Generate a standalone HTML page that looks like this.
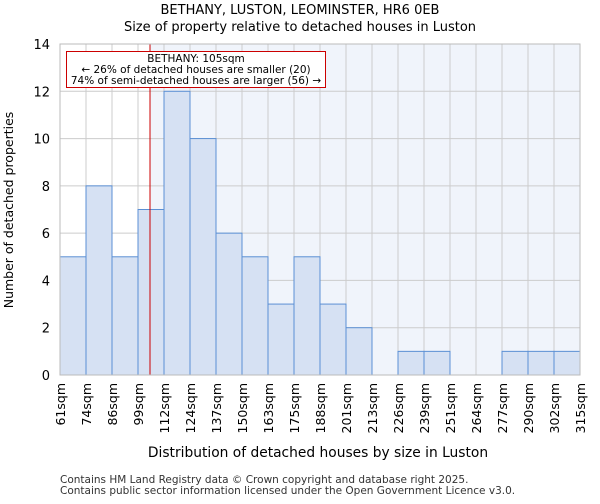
<!DOCTYPE html>
<html><head><meta charset="utf-8"><style>
body{margin:0;background:#fff;font-family:"DejaVu Sans","Liberation Sans",sans-serif}
</style></head><body>
<svg id="c" width="600" height="500" xmlns="http://www.w3.org/2000/svg" font-family="DejaVu Sans, Liberation Sans, sans-serif">
<text x="300" y="14" text-anchor="middle" font-size="13">BETHANY, LUSTON, LEOMINSTER, HR6 0EB</text>
<text x="300" y="31" text-anchor="middle" font-size="13">Size of property relative to detached houses in Luston</text>
<g id="plot"></g>
<text x="318" y="457" text-anchor="middle" font-size="13.8">Distribution of detached houses by size in Luston</text>
<text transform="translate(13,210) rotate(-90)" text-anchor="middle" font-size="12.5">Number of detached properties</text>
<text x="60" y="483" font-size="10.5" fill="#333">Contains HM Land Registry data © Crown copyright and database right 2025.</text>
<text x="60" y="494" font-size="10.5" fill="#333">Contains public sector information licensed under the Open Government Licence v3.0.</text>
</svg>
<script>
const edges=["61sqm","74sqm","86sqm","99sqm","112sqm","124sqm","137sqm","150sqm","163sqm","175sqm","188sqm","201sqm","213sqm","226sqm","239sqm","251sqm","264sqm","277sqm","290sqm","302sqm","315sqm"];
const counts=[5,8,5,7,12,10,6,5,3,5,3,2,0,1,1,0,0,1,1,1];
const yTicks=[0,2,4,6,8,10,12,14];
const markerBin=3, markerFrac=6/13;
const NS="http://www.w3.org/2000/svg";
const L=60,R=580,T=44,B=375,yMax=14;
const bw=(R-L)/counts.length;
const xs=i=>L+i*bw, ys=v=>B-(v/yMax)*(B-T);
const g=document.getElementById('plot');
function mk(t,a){const e=document.createElementNS(NS,t);for(const k in a)e.setAttribute(k,a[k]);g.appendChild(e);return e;}
const mx=xs(markerBin)+markerFrac*bw;
let e=mk('rect',{x:L,y:T,width:R-L,height:B-T,fill:'#fff'});

e=mk('rect',{x:mx,y:T,width:R-mx,height:B-T,fill:'#f0f4fb'});

yTicks.forEach(v=>{const l=mk('line',{x1:L,x2:R,y1:ys(v),y2:ys(v),stroke:'#ccc'});

const t=mk('text',{x:L-10,y:ys(v)+5,'text-anchor':'end','font-size':13});t.textContent=v;
});
edges.forEach((s,i)=>{const l=mk('line',{x1:xs(i),x2:xs(i),y1:T,y2:B,stroke:'#ccc'});

const t=mk('text',{transform:`translate(${xs(i)+5},${B+8}) rotate(-90)`,'text-anchor':'end','font-size':12.5});t.textContent=s;
});
counts.forEach((v,i)=>{if(!v)return;const r=mk('rect',{x:xs(i),y:ys(v),width:bw,height:B-ys(v),fill:'#d6e1f3',stroke:'#5b8fd4','stroke-width':1});
});
e=mk('line',{x1:mx,x2:mx,y1:T,y2:B,stroke:'#cc0000','stroke-width':1});

e=mk('rect',{x:66.5,y:51.5,width:259,height:36,fill:'#fff',stroke:'#cc0000'});

[["BETHANY: 105sqm",62],["← 26% of detached houses are smaller (20)",73],["74% of semi-detached houses are larger (56) →",84]].forEach(([s,y])=>{
const t=mk('text',{x:196,y:y,'text-anchor':'middle','font-size':10.5});t.textContent=s;
});
e=mk('rect',{x:L,y:T,width:R-L,height:B-T,fill:'none',stroke:'#bbb'});

</script>
</body></html>
